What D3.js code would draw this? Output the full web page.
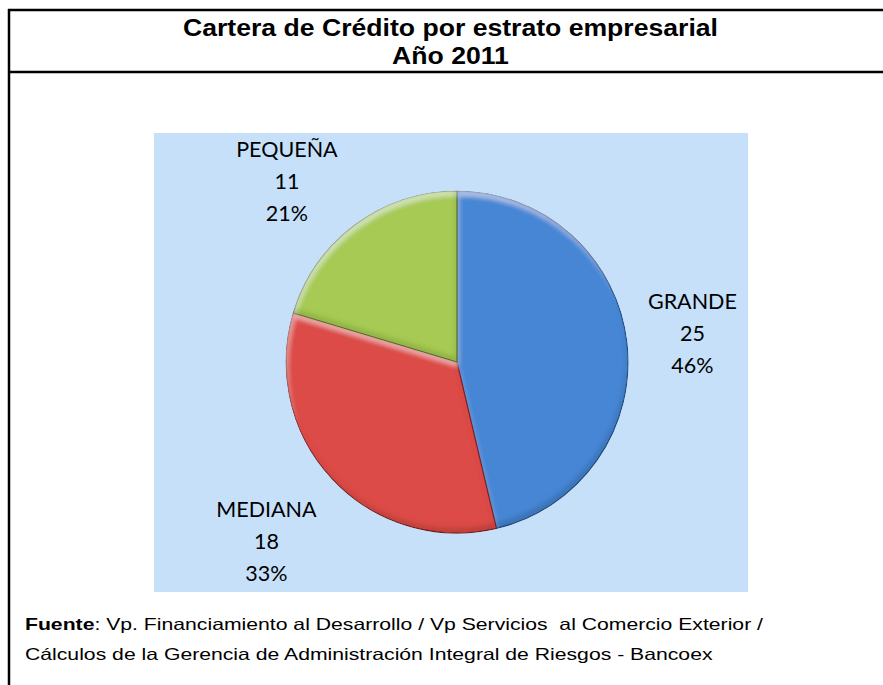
<!DOCTYPE html>
<html>
<head>
<meta charset="utf-8">
<script src="https://cdn.jsdelivr.net/npm/d3@7"></script>
<style>
  body { margin: 0; background: #fff; }
  svg { display: block; }
</style>
</head>
<body>
<div id="chart"></div>
<script>
// Data
const categories = ["GRANDE", "MEDIANA", "PEQUEÑA"];
const values = [25, 18, 11];
const percentLabels = ["46%", "33%", "21%"];
const titleLines = ["Cartera de Crédito por estrato empresarial", "Año 2011"];
const sourceBold = "Fuente";
const sourceLines = [": Vp. Financiamiento al Desarrollo / Vp Servicios  al Comercio Exterior /",
    "Cálculos de la Gerencia de Administración Integral de Riesgos - Bancoex"];

// Colors (top / bottom of each slice gradient)
const sliceColors = [
    { top: "#4686d4", bottom: "#2c5c9a", edge: "#284f86" },
    { top: "#dc4c46", bottom: "#a22d29", edge: "#842421" },
    { top: "#a6ca53", bottom: "#789334", edge: "#5a7424" }
];
const plotBg = "#c6e0fa";

// Layout
const W = 883, H = 685;
const cx = 457, cy = 362, radius = 171;
const labelRadius = [237, 262, 248];
const labelNudge = { "PEQUEÑA": [-22, 19] };

const svg = d3.select("#chart").append("svg")
    .attr("width", W)
    .attr("height", H);

svg.append("rect").attr("width", W).attr("height", H).attr("fill", "#fff");

const defs = svg.append("defs");

// bevel filter: light rim top-left, dark rim bottom-right
const f = defs.append("filter").attr("id", "bevel")
    .attr("x", "-10%").attr("y", "-10%").attr("width", "120%").attr("height", "120%");
f.append("feOffset").attr("in", "SourceAlpha").attr("dx", 2).attr("dy", 5).attr("result", "o1");
f.append("feComposite").attr("in", "SourceAlpha").attr("in2", "o1").attr("operator", "out").attr("result", "rimT");
f.append("feGaussianBlur").attr("in", "rimT").attr("stdDeviation", 2.5).attr("result", "rimTb");
f.append("feFlood").attr("flood-color", "#fff").attr("flood-opacity", 0.5).attr("result", "w");
f.append("feComposite").attr("in", "w").attr("in2", "rimTb").attr("operator", "in").attr("result", "hl");
f.append("feOffset").attr("in", "SourceAlpha").attr("dx", -2).attr("dy", -5).attr("result", "o2");
f.append("feComposite").attr("in", "SourceAlpha").attr("in2", "o2").attr("operator", "out").attr("result", "rimB");
f.append("feGaussianBlur").attr("in", "rimB").attr("stdDeviation", 2.5).attr("result", "rimBb");
f.append("feFlood").attr("flood-color", "#000").attr("flood-opacity", 0.35).attr("result", "k");
f.append("feComposite").attr("in", "k").attr("in2", "rimBb").attr("operator", "in").attr("result", "sh");
const merge = f.append("feMerge").attr("result", "m");
merge.append("feMergeNode").attr("in", "SourceGraphic");
merge.append("feMergeNode").attr("in", "hl");
merge.append("feMergeNode").attr("in", "sh");
f.append("feComposite").attr("in", "m").attr("in2", "SourceAlpha").attr("operator", "in");

sliceColors.forEach((c, i) => {
    const g = defs.append("linearGradient")
        .attr("id", "slice-grad-" + i)
        .attr("gradientUnits", "userSpaceOnUse")
        .attr("x1", 0).attr("y1", cy - radius)
        .attr("x2", 0).attr("y2", cy + radius);
    g.append("stop").attr("offset", "0%").attr("stop-color", c.top);
    g.append("stop").attr("offset", "100%").attr("stop-color", c.bottom);
});

// Frame lines
const frame = svg.append("g").attr("stroke", "#000").attr("stroke-width", 2.5);
frame.append("line").attr("x1", 8).attr("x2", W).attr("y1", 10).attr("y2", 10);
frame.append("line").attr("x1", 8).attr("x2", W).attr("y1", 72).attr("y2", 72);
frame.append("line").attr("x1", 9).attr("x2", 9).attr("y1", 9).attr("y2", H);

// Title
const title = svg.append("g")
    .attr("font-family", "'Liberation Sans', Arial, sans-serif")
    .attr("font-weight", "bold")
    .attr("font-size", 23)
    .attr("text-anchor", "middle")
    .attr("fill", "#000");
const t1 = title.append("text").attr("x", 450.5).attr("y", 36).text(titleLines[0]);
const t2 = title.append("text").attr("x", 450.5).attr("y", 64).text(titleLines[1]);
const titleRatio = 535 / t1.node().getComputedTextLength();
t1.attr("textLength", 535).attr("lengthAdjust", "spacingAndGlyphs");
t2.attr("textLength", t2.node().getComputedTextLength() * titleRatio).attr("lengthAdjust", "spacingAndGlyphs");

// Plot area background
svg.append("rect")
    .attr("x", 154).attr("y", 133)
    .attr("width", 748 - 154).attr("height", 592 - 133)
    .attr("fill", plotBg);

// Pie
const pie = d3.pie().sort(null).value(d => d.value);
const arcs = pie(categories.map((c, i) => ({ name: c, value: values[i], pct: percentLabels[i], i })));
const arc = d3.arc().innerRadius(0).outerRadius(radius);

const pieG = svg.append("g").attr("transform", `translate(${cx},${cy})`);
pieG.selectAll("path.slice")
    .data(arcs)
    .enter().append("path")
    .attr("class", "slice")
    .attr("d", arc)
    .attr("fill", d => `url(#slice-grad-${d.data.i})`)
    .attr("stroke", d => sliceColors[d.data.i].edge)
    .attr("stroke-width", 1.2)
    .attr("filter", "url(#bevel)");

// Labels
const labels = pieG.selectAll("text.lbl")
    .data(arcs)
    .enter().append("text")
    .attr("class", "lbl")
    .attr("font-family", "Lato, 'Noto Sans', sans-serif")
    .attr("font-size", 21.5)
    .attr("text-anchor", "middle")
    .attr("fill", "#000")
    .attr("transform", d => {
        const [x, y] = d3.arc().innerRadius(labelRadius[d.data.i]).outerRadius(labelRadius[d.data.i]).centroid(d);
        const n = labelNudge[d.data.name] || [0, 0];
        return `translate(${x + n[0]},${y + n[1]})`;
    });
labels.each(function(d) {
    const t = d3.select(this);
    [d.data.name, d3.format("d")(d.data.value), d.data.pct].forEach((s, k) => {
        t.append("tspan").attr("x", 0).attr("y", (k - 1) * 32 + 7).text(s);
    });
});

// Source
const src = svg.append("g")
    .attr("font-family", "'Liberation Sans', Arial, sans-serif")
    .attr("font-size", 16.5)
    .attr("fill", "#000");
const s1 = src.append("text").attr("x", 25).attr("y", 630).attr("xml:space", "preserve");
s1.append("tspan").attr("font-weight", "bold").text(sourceBold);
s1.append("tspan").text(sourceLines[0]);
const s2 = src.append("text").attr("x", 25).attr("y", 660).text(sourceLines[1]);
const srcRatio = 738 / s1.node().getComputedTextLength();
s1.attr("textLength", 738).attr("lengthAdjust", "spacingAndGlyphs");
s2.attr("textLength", s2.node().getComputedTextLength() * srcRatio).attr("lengthAdjust", "spacingAndGlyphs");
</script>
</body>
</html>
